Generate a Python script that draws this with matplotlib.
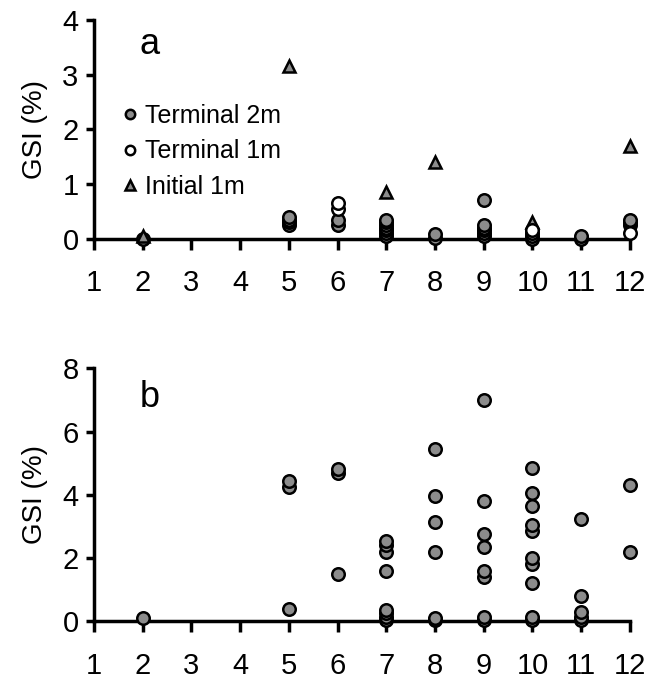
import numpy as np
import matplotlib
matplotlib.use("Agg")
from matplotlib import pyplot as plt

plt.rcParams['font.family'] = ['Liberation Sans', 'DejaVu Sans']

months = list(range(1, 13))

# panel a
t2m_a_x = [2, 5, 5, 5, 5, 6, 6, 7, 7, 7, 7, 7, 7, 7, 8, 8, 9, 9, 9, 9, 9, 9, 10, 10, 10, 11, 11, 12, 12, 12]
t2m_a_y = [0.0, 0.25, 0.3, 0.35, 0.4, 0.25, 0.35, 0.05, 0.1, 0.15, 0.2, 0.25, 0.3, 0.35, 0.02, 0.08,
           0.7, 0.05, 0.1, 0.15, 0.2, 0.25, 0.0, 0.05, 0.1, 0.0, 0.05, 0.25, 0.3, 0.35]
t1m_a_x = [6, 6, 10, 12]
t1m_a_y = [0.55, 0.65, 0.15, 0.1]
i1m_a_x = [2, 5, 7, 8, 10, 12]
i1m_a_y = [0.05, 3.15, 0.85, 1.4, 0.3, 1.7]

# panel b
t2m_b_x = [2, 5, 5, 5, 6, 6, 6,
           7, 7, 7, 7, 7, 7, 7, 7,
           8, 8, 8, 8, 8, 8,
           9, 9, 9, 9, 9, 9, 9, 9,
           10, 10, 10, 10, 10, 10, 10, 10, 10, 10,
           11, 11, 11, 11, 11, 12, 12]
t2m_b_y = [0.1, 0.4, 4.25, 4.45, 1.5, 4.7, 4.8,
           0.05, 0.15, 0.25, 0.35, 1.6, 2.2, 2.4, 2.55,
           0.05, 0.1, 2.2, 3.15, 3.95, 5.45,
           0.05, 0.15, 1.4, 1.6, 2.35, 2.75, 3.8, 7.0,
           0.05, 0.15, 1.2, 1.8, 2.0, 2.85, 3.05, 3.65, 4.05, 4.85,
           0.05, 0.15, 0.3, 0.8, 3.25, 2.2, 4.3]

gray = '#8c8c8c'
fig = plt.figure(figsize=(6.61, 6.82), dpi=100)
ax1 = fig.add_axes([0.142, 0.650, 0.811, 0.321])
ax2 = fig.add_axes([0.142, 0.089, 0.811, 0.371])

ms = 9
ax1.plot(t2m_a_x, t2m_a_y, 'o', ms=ms, mfc=gray, mec='black', mew=1.8, ls='none',
         clip_on=False, label='Terminal 2m', zorder=3)
ax1.plot(t1m_a_x, t1m_a_y, 'o', ms=ms, mfc='white', mec='black', mew=1.8, ls='none',
         clip_on=False, label='Terminal 1m', zorder=4)
ax1.plot(i1m_a_x, i1m_a_y, '^', ms=ms, mfc=gray, mec='black', mew=1.8, ls='none',
         clip_on=False, label='Initial 1m', zorder=3)
ax2.plot(t2m_b_x, t2m_b_y, 'o', ms=ms, mfc=gray, mec='black', mew=1.8, ls='none',
         clip_on=False, zorder=3)

for ax, top, step, letter in [(ax1, 4, 1, 'a'), (ax2, 8, 2, 'b')]:
    ax.set_xlim(1, 12)
    ax.set_ylim(0, top)
    ax.set_xticks(months)
    ax.set_yticks(np.arange(0, top + 1, step))
    ax.spines['top'].set_visible(False)
    ax.spines['right'].set_visible(False)
    ax.spines['left'].set_linewidth(2.5)
    ax.spines['bottom'].set_linewidth(2.5)
    ax.tick_params(axis='x', direction='out', length=8, width=2.5, labelsize=21, pad=14)
    ax.tick_params(axis='y', direction='out', length=6, width=2.5, labelsize=21, pad=5)
    ax.set_ylabel('GSI (%)', fontsize=20, labelpad=10)
    ax.text(0.085, 0.885, letter, transform=ax.transAxes,
            fontsize=26, va='center', ha='left')

ax1.legend(loc='upper left', bbox_to_anchor=(0.035, 0.66), frameon=False, fontsize=18,
           handletextpad=0.3, handlelength=0.6, labelspacing=0.45, borderaxespad=0,
           markerscale=0.75)

fig.savefig('out.png', dpi=100)
